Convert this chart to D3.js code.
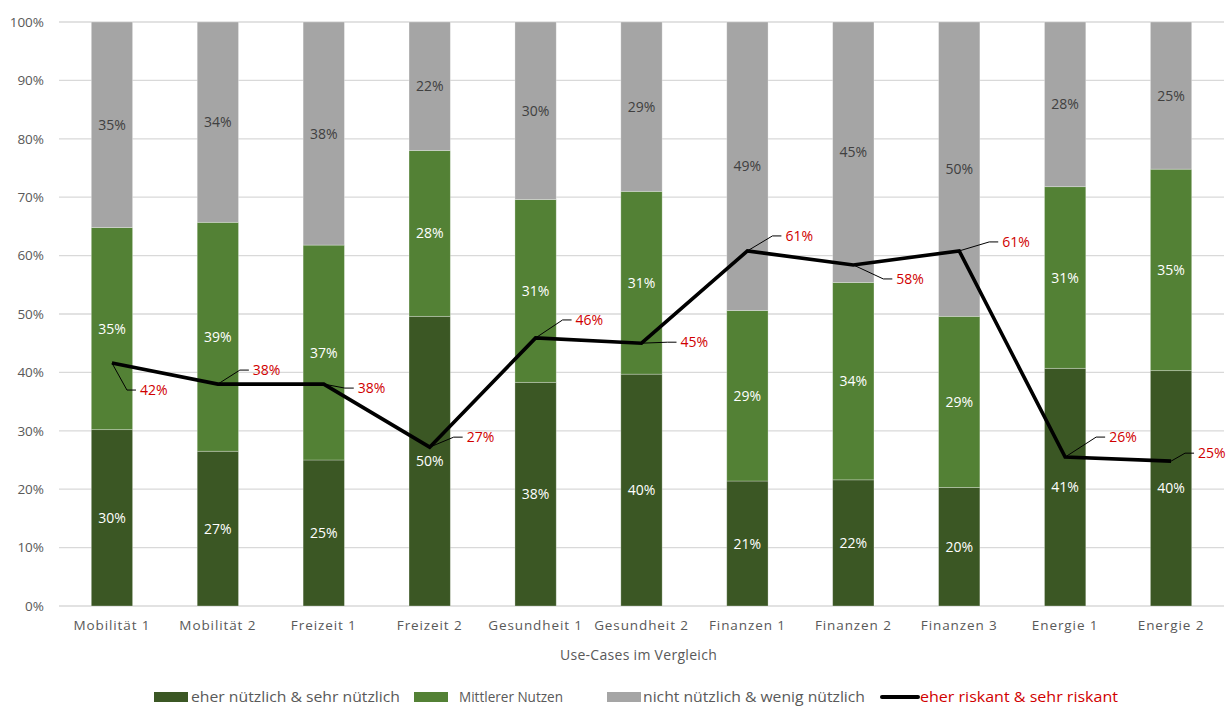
<!DOCTYPE html>
<html><head><meta charset="utf-8">
<script src="https://cdn.jsdelivr.net/npm/d3@7"></script>
<style>body{margin:0;background:#fff}svg{display:block;font-family:"Open Sans","Noto Sans",sans-serif}</style>
</head><body><svg id="c" width="1228" height="706"></svg>
<script>
const categories = ["Mobilität 1","Mobilität 2","Freizeit 1","Freizeit 2","Gesundheit 1","Gesundheit 2","Finanzen 1","Finanzen 2","Finanzen 3","Energie 1","Energie 2"];
const nuetzlich = [30.2, 26.5, 25.0, 49.6, 38.3, 39.7, 21.4, 21.6, 20.3, 40.7, 40.3];
const mittel    = [34.6, 39.2, 36.8, 28.4, 31.3, 31.3, 29.2, 33.8, 29.3, 31.1, 34.5];
const nicht     = [35.2, 34.3, 38.2, 22.0, 30.4, 29.0, 49.4, 44.6, 50.4, 28.2, 25.2];
const riskant   = [41.6, 38.0, 38.0, 27.2, 45.9, 45.0, 60.8, 58.4, 60.8, 25.5, 24.8];
const yTicks = [0,10,20,30,40,50,60,70,80,90,100];
const seriesNames = ["eher nützlich & sehr nützlich","Mittlerer Nutzen","nicht nützlich & wenig nützlich"];
const lineName = "eher riskant & sehr riskant";

// layout for line labels (offset of label from point)
const lblDx = [28,35,34,37,40,39,38,43,43,44,27];
const lblDy = [27,-14,4,-10,-18,-1,-15,14,-9,-20,-8];

const colors = ["#3b5724","#538135","#a5a5a5"];
const textCols = ["#ffffff","#ffffff","#404040"];
const red = "#d00000";

const svg = d3.select("#c");
const L = 59, R = 1224, T = 22, B = 606;
const x = d3.scaleBand().domain(categories).range([L, R]).paddingInner(0.61).paddingOuter(0.305);
const y = d3.scaleLinear().domain([0,100]).range([B, T]);

// grid
svg.append("g").selectAll("line").data(yTicks).join("line")
  .attr("x1", L).attr("x2", R).attr("y1", d=>y(d)).attr("y2", d=>y(d))
  .attr("stroke", "#d9d9d9").attr("stroke-width", 1.3);

// y axis labels
const yAxis = d3.axisLeft(y).tickValues(yTicks).tickFormat(d=>d+"%").tickSize(0).tickPadding(0);
const gy = svg.append("g").attr("transform", `translate(44,0)`).call(yAxis);
gy.select(".domain").remove();
gy.selectAll("text").attr("fill","#595959").style("font-size","13.5px").style("font-family","'Open Sans',sans-serif");

// x axis labels
const xAxis = d3.axisBottom(x).tickSize(0).tickPadding(0);
const gx = svg.append("g").attr("transform", `translate(0,${B+14})`).call(xAxis);
gx.select(".domain").remove();
gx.selectAll("text").attr("fill","#595959").style("font-size","13.5px").style("letter-spacing","0.9px").style("font-family","'Open Sans',sans-serif");

svg.append("text").attr("x", (L+R)/2 - 3).attr("y", 660).attr("text-anchor","middle")
  .attr("fill","#595959").style("font-size","14px").style("letter-spacing","0.3px").text("Use-Cases im Vergleich");

// stacked bars
const rows = categories.map((c,i)=>({cat:c, v:[nuetzlich[i], mittel[i], nicht[i]]}));
const stack = d3.stack().keys([0,1,2]).value((d,k)=>d.v[k]);
const stacked = stack(rows);
stacked.forEach((s, k) => {
  const g = svg.append("g");
  g.selectAll("rect").data(s).join("rect")
    .attr("x", d=>x(d.data.cat)).attr("width", x.bandwidth())
    .attr("y", d=>y(d[1])).attr("height", d=>y(d[0])-y(d[1]))
    .attr("fill", colors[k]).attr("stroke","#ffffff").attr("stroke-opacity",0.35).attr("stroke-width",0.8);
  g.selectAll("text").data(s).join("text")
    .attr("x", d=>x(d.data.cat)+x.bandwidth()/2)
    .attr("y", d=>(y(d[0])+y(d[1]))/2)
    .attr("dy","0.36em").attr("text-anchor","middle")
    .attr("fill", textCols[k]).style("font-size","14px")
    .text(d=>Math.round(d.data.v[k])+"%");
});

// line
const cx = i => x(categories[i]) + x.bandwidth()/2;
const line = d3.line().x((d,i)=>cx(i)).y(d=>y(d));
svg.append("path").datum(riskant).attr("d", line).attr("fill","none")
  .attr("stroke","#000").attr("stroke-width",3.6).attr("stroke-linejoin","miter");

// leader lines + labels
const lg = svg.append("g");
riskant.forEach((v,i)=>{
  const px = cx(i), py = y(v);
  const lx = px + lblDx[i], ly = py + lblDy[i];
  lg.append("polyline")
    .attr("points", `${px},${py} ${lx-13},${ly} ${lx-4},${ly}`)
    .attr("fill","none").attr("stroke","#000").attr("stroke-width",1);
  lg.append("text").attr("x", lx).attr("y", ly).attr("dy","0.36em")
    .attr("fill", red).style("font-size","14px").text(Math.round(v)+"%");
});

// legend
const leg = svg.append("g");
const legY = 697;
const items = [
  {type:"rect", col:colors[0], sx:154, tx:191, tw:209, text:seriesNames[0], tc:"#595959"},
  {type:"rect", col:colors[1], sx:414, tx:459, tw:104, text:seriesNames[1], tc:"#595959"},
  {type:"rect", col:colors[2], sx:607, tx:643, tw:222, text:seriesNames[2], tc:"#595959"},
  {type:"line", col:"#000", sx:882, tx:920, tw:198, text:lineName, tc:red}
];
items.forEach(it=>{
  if (it.type==="rect") leg.append("rect").attr("x", it.sx).attr("y", legY-5).attr("width",34).attr("height",10).attr("fill", it.col);
  else leg.append("line").attr("x1", it.sx).attr("x2", it.sx+36).attr("y1", legY).attr("y2", legY).attr("stroke","#000").attr("stroke-width",4).attr("stroke-linecap","round");
  leg.append("text").attr("x", it.tx).attr("y", legY).attr("dy","0.36em")
    .attr("fill", it.tc).style("font-size","14px")
    .attr("textLength", it.tw).attr("lengthAdjust","spacingAndGlyphs").text(it.text);
});
</script></body></html>
